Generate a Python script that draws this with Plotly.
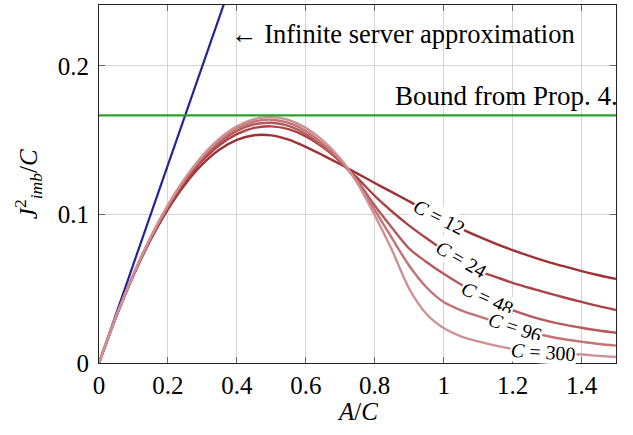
import plotly.graph_objects as go

# ---------------- data ----------------
a_over_c = [0.00, 0.05, 0.10, 0.15, 0.20, 0.25, 0.30, 0.35, 0.40, 0.45,
            0.50, 0.55, 0.60, 0.65, 0.70, 0.75, 0.80, 0.85, 0.90, 0.95,
            1.00, 1.05, 1.10, 1.15, 1.20, 1.25, 1.30, 1.35, 1.40, 1.45, 1.50]

j_c12 = [0.0, 0.0312, 0.0589, 0.0830, 0.1035, 0.1204, 0.1338, 0.1437, 0.1502, 0.1533,
         0.1532, 0.1503, 0.1455, 0.1398, 0.1338, 0.1275, 0.1212, 0.1150, 0.1088, 0.1025,
         0.0965, 0.0905, 0.0852, 0.0804, 0.0760, 0.0720, 0.0683, 0.0650, 0.0619, 0.0591, 0.0566]

j_c24 = [0.0, 0.0314, 0.0594, 0.0838, 0.1048, 0.1222, 0.1362, 0.1468, 0.1541, 0.1583,
         0.1593, 0.1574, 0.1526, 0.1452, 0.1356, 0.1245, 0.1125, 0.1020, 0.0925, 0.0840,
         0.0760, 0.0685, 0.0620, 0.0580, 0.0540, 0.0505, 0.0472, 0.0441, 0.0411, 0.0383, 0.0357]

j_c48 = [0.0, 0.0315, 0.0596, 0.0842, 0.1055, 0.1232, 0.1375, 0.1485, 0.1563, 0.1607,
         0.1617, 0.1596, 0.1542, 0.1458, 0.1355, 0.1225, 0.1060, 0.0910, 0.0770, 0.0680,
         0.0600, 0.0528, 0.0462, 0.0405, 0.0356, 0.0316, 0.0284, 0.0258, 0.0237, 0.0219, 0.0204]

j_c96 = [0.0, 0.0316, 0.0597, 0.0845, 0.1060, 0.1240, 0.1386, 0.1500, 0.1580, 0.1626,
         0.1638, 0.1617, 0.1562, 0.1475, 0.1365, 0.1215, 0.1030, 0.0840, 0.0655, 0.0510,
         0.0410, 0.0355, 0.0315, 0.0278, 0.0245, 0.0210, 0.0182, 0.0160, 0.0143, 0.0128, 0.0117]

j_c300 = [0.0, 0.0316, 0.0598, 0.0848, 0.1064, 0.1246, 0.1395, 0.1511, 0.1593, 0.1641,
          0.1655, 0.1636, 0.1583, 0.1497, 0.1376, 0.1210, 0.0995, 0.0760, 0.0500, 0.0330,
          0.0235, 0.0180, 0.0145, 0.0117, 0.0095, 0.0080, 0.0070, 0.0063, 0.0057, 0.0048, 0.0040]

series_names = ["C = 12", "C = 24", "C = 48", "C = 96", "C = 300"]
series_values = [j_c12, j_c24, j_c48, j_c96, j_c300]

infinite_x = [0.0, 0.40]
infinite_y = [0.0, 0.2667]

bound_x = [0.0, 1.5]
bound_y = [1 / 6, 1 / 6]

x_tick_vals = [0, 0.2, 0.4, 0.6, 0.8, 1.0, 1.2, 1.4]
x_tick_text = ["0", "0.2", "0.4", "0.6", "0.8", "1", "1.2", "1.4"]
y_tick_vals = [0, 0.1, 0.2]
y_tick_text = ["0", "0.1", "0.2"]

# ---------------- styling ----------------
FONT = "'Liberation Serif', 'Times New Roman', 'DejaVu Serif', serif"
curve_colors = ["#9f3234", "#aa4446", "#b65a5c", "#c27476", "#cf9294"]
label_pos = [(0.987, 0.0985, 27), (1.051, 0.0700, 30), (1.126, 0.0435, 24.5),
             (1.207, 0.0245, 18.5), (1.290, 0.0074, 4)]

fig = go.Figure()

fig.add_trace(go.Scatter(x=infinite_x, y=infinite_y, mode="lines",
                         line=dict(color="#23239b", width=2.2), showlegend=False,
                         hoverinfo="skip"))

for name, vals, col in zip(series_names, series_values, curve_colors):
    fig.add_trace(go.Scatter(x=a_over_c, y=vals, mode="lines", name=name,
                             line=dict(color=col, width=2.4, shape="spline", smoothing=0.8),
                             showlegend=False))

fig.add_trace(go.Scatter(x=bound_x, y=bound_y, mode="lines",
                         line=dict(color="#2ca02c", width=2.2), showlegend=False,
                         hoverinfo="skip"))

annotations = []
for name, (lx, ly, ang) in zip(series_names, label_pos):
    num = name.split("= ")[1]
    annotations.append(dict(x=lx, y=ly, xref="x", yref="y", showarrow=False,
                            text="<i>C</i> = " + num, textangle=ang,
                            font=dict(family=FONT, size=20, color="black"),
                            bgcolor="white", borderpad=0,
                            xanchor="center", yanchor="middle"))

annotations.append(dict(x=0.378, y=0.2215, xref="x", yref="y", showarrow=False,
                        text="\u2190 Infinite server approximation",
                        font=dict(family=FONT, size=26.5, color="black"),
                        xanchor="left", yanchor="middle"))
annotations.append(dict(x=1.5, y=0.1800, xref="x", yref="y", showarrow=False,
                        text="Bound from Prop. 4.",
                        font=dict(family=FONT, size=27, color="black"),
                        xanchor="right", yanchor="middle", xshift=4))
annotations.append(dict(x=-0.137, y=0.5, xref="paper", yref="paper", showarrow=False,
                        text="<i>J</i><sup>2</sup><sub><i>imb</i></sub>/<i>C</i>",
                        textangle=-90, font=dict(family=FONT, size=25, color="black"),
                        xanchor="center", yanchor="middle"))
annotations.append(dict(x=0.5, y=-0.136, xref="paper", yref="paper", showarrow=False,
                        text="<i>A</i>/<i>C</i>",
                        font=dict(family=FONT, size=25, color="black"),
                        xanchor="center", yanchor="middle"))

axis_common = dict(showgrid=True, gridcolor="#d4d4d4", gridwidth=1,
                   showline=True, linecolor="#222222", linewidth=1.2, mirror="ticks",
                   ticks="inside", ticklen=6, tickcolor="#666666", tickwidth=1,
                   zeroline=False, tickfont=dict(family=FONT, size=25, color="black"))

fig.update_layout(
    width=633, height=435,
    margin=dict(l=99, r=17, t=5, b=72),
    plot_bgcolor="white", paper_bgcolor="white",
    font=dict(family=FONT),
    xaxis=dict(range=[0, 1.5], tickvals=x_tick_vals, ticktext=x_tick_text,
               ticklabelstandoff=0, **axis_common),
    yaxis=dict(range=[0, 0.241], tickvals=y_tick_vals, ticktext=y_tick_text,
               ticklabelstandoff=4, **axis_common),
    annotations=annotations,
    showlegend=False,
)

fig.write_html("out.html")
